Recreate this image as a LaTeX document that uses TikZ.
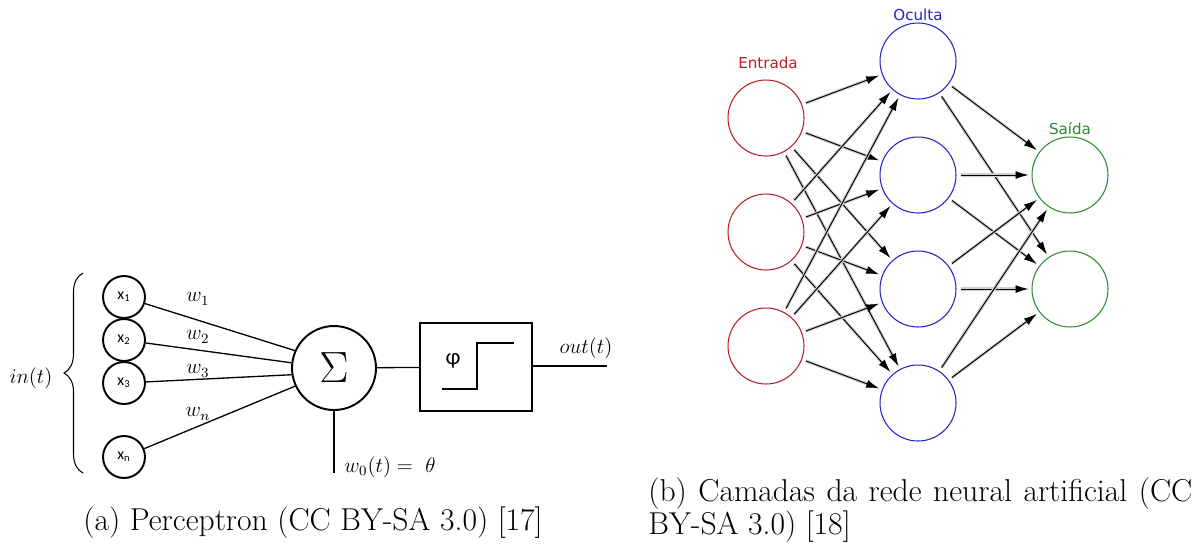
\documentclass[tikz,border=0pt]{standalone}
\usepackage{fontspec}
\newfontfamily\carl{Carlito}
\newfontfamily\dejavu{DejaVu Sans}
\usetikzlibrary{arrows.meta,decorations.pathreplacing}
\definecolor{inred}{RGB}{185,30,40}
\definecolor{hidblue}{RGB}{35,35,200}
\definecolor{outgreen}{RGB}{45,140,45}
\tikzset{
  inp/.style={circle,draw,line width=1.1pt,minimum size=0.84cm,inner sep=0pt,font=\carl\fontsize{9}{9}\selectfont},
  sig/.style={circle,draw,line width=1.1pt,minimum size=1.68cm,inner sep=0pt},
  wlab/.style={font=\fontsize{11.5}{12}\selectfont},
  pline/.style={line width=0.75pt},
  neuron/.style={circle,draw,line width=0.6pt,minimum size=1.52cm,inner sep=0pt},
  layerlab/.style={font=\dejavu\fontsize{8.6}{9}\selectfont},
  conn/.style={line width=0.55pt,-{Latex[length=0.26cm,width=0.16cm]},shorten <=0.08cm,shorten >=0.06cm,
    preaction={draw=black!18,line width=1.8pt,-,shorten <=0.08cm,shorten >=0.3cm}},
  capt/.style={font=\fontsize{18}{21}\selectfont,inner sep=0pt}
}
\begin{document}
\begin{tikzpicture}[x=0.02cm,y=-0.02cm]
\useasboundingbox (0,0) rectangle (1199,549);
% ---------- (a) Perceptron ----------
\node[inp] (x1) at (124,297) {x\textsubscript{1}};
\node[inp] (x2) at (124,340) {x\textsubscript{2}};
\node[inp] (x3) at (124,383) {x\textsubscript{3}};
\node[inp] (xn) at (124,457) {x\textsubscript{n}};
\node[sig] (s) at (334,368) {\fontsize{28}{30}\selectfont$\Sigma$};
\draw[pline] (x1) -- (s.156);
\draw[pline] (x2) -- (s.173);
\draw[pline] (x3) -- (s.189);
\draw[pline] (xn) -- (s.205);
\node[wlab] (w1) at (198,299) {$w_1$};
\node[wlab] (w2) at (198,337) {$w_2$};
\node[wlab] (w3) at (198,371) {$w_3$};
\node[wlab] (wn) at (198,414) {$w_n$};
\coordinate (bracebot) at (83,473);
\coordinate (bracetop) at (83,273);
\draw[line width=0.6pt,decorate,decoration={brace,amplitude=0.38cm,aspect=0.5}] (bracebot) -- (bracetop);
\node[wlab] (in) at (31,378) {$in(t)$};
\node[draw,line width=1.4pt,minimum width=2.24cm,minimum height=1.76cm,inner sep=0pt] (phi) at (476,367) {};
\draw[pline] (s) -- (phi);
\draw[line width=1.4pt] (442,389) -- (477,389) -- (477,343) -- (514,343);
\node[font=\carl\fontsize{13}{13}\selectfont] (phisym) at (453,361) {φ};
\coordinate (outend) at (607,366);
\draw[pline] (phi.east |- outend) -- (outend);
\node[wlab] (outlab) at (586,348) {$out(t)$};
\coordinate (biasend) at (334,473);
\draw[pline] (s) -- (biasend);
\node[wlab] (bias) at (390,467) {$w_0(t) = \ \theta$};
\node[capt] (capa) at (313,523) {(a) Perceptron (CC BY-SA 3.0) [17]};
% ---------- (b) Network ----------
\node[neuron,draw=inred] (i1) at (766,118) {};
\node[neuron,draw=inred] (i2) at (766,232) {};
\node[neuron,draw=inred] (i3) at (766,346) {};
\node[neuron,draw=hidblue] (h1) at (918,61) {};
\node[neuron,draw=hidblue] (h2) at (918,175) {};
\node[neuron,draw=hidblue] (h3) at (918,289) {};
\node[neuron,draw=hidblue] (h4) at (918,403) {};
\node[neuron,draw=outgreen] (o1) at (1070,175) {};
\node[neuron,draw=outgreen] (o2) at (1070,289) {};
\node[layerlab,text=inred] (lin) at (768,63) {Entrada};
\node[layerlab,text=hidblue] (lhid) at (918,15) {Oculta};
\node[layerlab,text=outgreen] (lout) at (1070,129) {Saída};
\foreach \a in {i1,i2,i3}{\foreach \b in {h1,h2,h3,h4}{\draw[conn] (\a) -- (\b);}}
\foreach \a in {h1,h2,h3,h4}{\foreach \b in {o1,o2}{\draw[conn] (\a) -- (\b);}}
\node[capt,anchor=west] (capb1) at (648,494) {\makebox[10.88cm][s]{(b) Camadas da rede neural artificial (CC}};
\node[capt,anchor=west] (capb2) at (648,527) {BY-SA 3.0) [18]};
\end{tikzpicture}
\end{document}
